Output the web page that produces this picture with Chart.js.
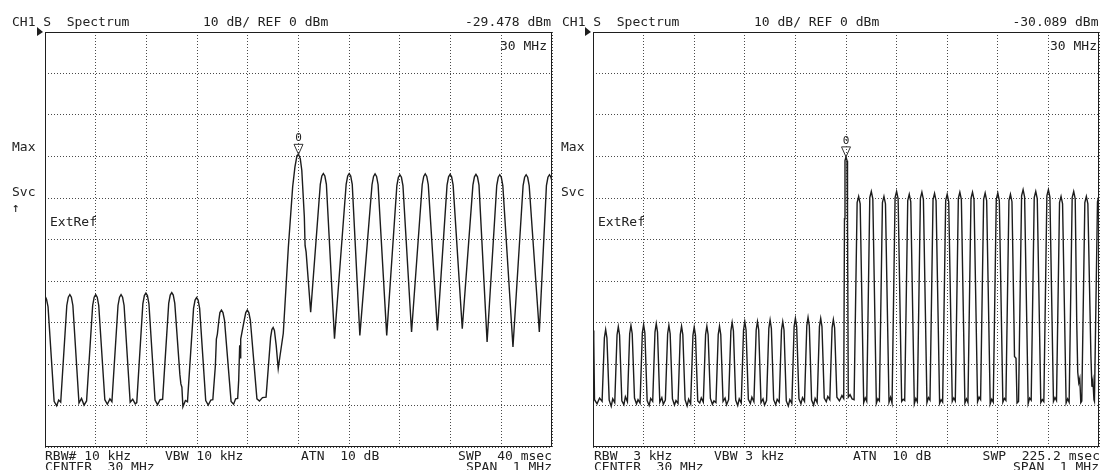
<!DOCTYPE html>
<html>
<head>
<meta charset="utf-8">
<script src="https://cdn.jsdelivr.net/npm/chart.js@4.4.0/dist/chart.umd.min.js"></script>
<style>
  body { margin: 0; background: #fff; }
  #wrap { position: relative; width: 1100px; height: 470px; overflow: hidden; background: #fff; }
  canvas { position: absolute; top: 0; }
</style>
</head>
<body>
<div id="wrap">
  <canvas id="leftScreen" width="560" height="470" style="left:0"></canvas>
  <canvas id="rightScreen" width="541" height="470" style="left:559px"></canvas>
</div>
<script>
"use strict";

// graticule: 10 divisions each way, 100 kHz/div and 10 dB/div
let gridFreq = [-500, -400, -300, -200, -100, 0, 100, 200, 300, 400, 500];
let gridLevel = [-100, -90, -80, -70, -60, -50, -40, -30, -20, -10, 0];

// marker 0 on each screen (offset from 30 MHz in kHz, level in dBm)
let markerFreq = [0, 0];
let markerLevel = [-29.478, -30.089];
let markerLabel = ['0', '0'];

// left screen trace: RBW 10 kHz, offset from 30 MHz in kHz
let leftFreq = [
  -500, -497, -494, -482, -477, -473,
  -469, -457, -454, -451, -448, -445, -433, -428, -423,
  -418, -406, -403, -400, -397, -394, -382, -377, -372,
  -368, -356, -353, -350, -347, -344, -332, -327, -322,
  -319, -307, -304, -301, -298, -295, -283, -278, -273,
  -268, -256, -253, -250, -247, -244, -234, -232, -230, -228, -223,
  -219, -207, -204, -201, -198, -195, -183, -178, -173,
  -169, -164, -162, -160, -157, -155, -152, -149, -146, -133, -128, -124,
  -120, -118, -116, -115, -114, -107, -104, -101, -98, -95, -82, -77, -71,
  -64, -55, -52.5, -50, -47.5, -44, -40, -37, -30, -20, -11.5, -7, -3, 0, 3.5, 6.5, 11.5, 13, 15, 24,
  43, 46, 49, 52, 55, 71,
  94, 97, 100, 103, 106, 121,
  145, 148, 151, 154, 157, 174,
  194, 197, 200, 203, 206, 223,
  244, 247, 250, 253, 256, 274,
  293, 296, 299, 302, 305, 323,
  344, 347, 350, 353, 356, 372,
  391, 394, 397, 400, 403, 423,
  443, 446, 449, 452, 455, 475,
  489, 492, 495, 498, 500
];
let leftLevel = [
  -63.6, -64.4, -66.2, -89.0, -90.1, -88.7,
  -89.2, -65.9, -63.9, -63.3, -63.9, -65.9, -89.4, -88.3, -89.9,
  -88.9, -65.9, -63.9, -63.3, -63.9, -65.9, -88.6, -89.7, -88.4,
  -89.1, -65.9, -63.9, -63.3, -63.9, -65.9, -89.2, -88.5, -89.6,
  -89.3, -65.5, -63.5, -62.9, -63.5, -65.5, -88.7, -89.8, -88.6,
  -88.5, -65.4, -63.4, -62.8, -63.4, -65.4, -82.5, -84.8, -85.6, -90.3, -88.8,
  -89.1, -66.6, -64.6, -64.0, -64.6, -66.6, -88.8, -89.9, -88.7,
  -88.6, -80.5, -74.0, -72.8, -69.4, -67.6, -67.0, -67.6, -69.4, -89.0, -89.7, -88.4,
  -88.3, -84.0, -75.5, -78.5, -74.0, -69.4, -67.6, -67.0, -67.6, -69.4, -88.4, -88.9, -88.1,
  -88.0, -73.6, -71.7, -71.2, -71.9, -75.5, -81.1, -78.5, -72.6, -51.8, -37.3, -32.5, -29.8, -29.478, -30.5, -33.3, -44.5, -51.5, -53.0, -67.5,
  -36.7, -34.7, -34.1, -34.7, -36.7, -73.9,
  -36.7, -34.7, -34.1, -34.7, -36.7, -73.1,
  -36.8, -34.8, -34.2, -34.8, -36.8, -73.1,
  -37.0, -35.0, -34.4, -35.0, -37.0, -72.3,
  -36.8, -34.8, -34.2, -34.8, -36.8, -71.9,
  -36.9, -34.9, -34.3, -34.9, -36.9, -71.5,
  -36.9, -34.9, -34.3, -34.9, -36.9, -74.7,
  -37.0, -35.0, -34.4, -35.0, -37.0, -75.9,
  -37.0, -35.0, -34.4, -35.0, -37.0, -72.3,
  -37.0, -35.0, -34.4, -35.0, -36.0
];

// right screen trace: RBW 3 kHz
let rightFreq = [
  -500, -498.5, -497, -492, -487,
  -482, -477.5, -475, -472.5, -468, -464, -461,
  -457, -452.5, -450, -447.5, -443, -439, -436,
  -432, -427.5, -425, -422.5, -418, -414, -411,
  -407, -402.5, -400, -397.5, -393, -389, -386,
  -382, -377.5, -375, -372.5, -368, -364, -361,
  -357, -352.5, -350, -347.5, -343, -339, -336,
  -332, -327.5, -325, -322.5, -318, -314, -311,
  -307, -302.5, -300, -297.5, -293, -289, -286,
  -282, -277.5, -275, -272.5, -268, -264, -261,
  -257, -252.5, -250, -247.5, -243, -239, -236,
  -232, -227.5, -225, -222.5, -218, -214, -211,
  -207, -202.5, -200, -197.5, -193, -189, -186,
  -182, -177.5, -175, -172.5, -168, -164, -161,
  -157, -152.5, -150, -147.5, -143, -139, -136,
  -132, -127.5, -125, -122.5, -118, -114, -111,
  -107, -102.5, -100, -97.5, -93, -89, -86,
  -82, -77.5, -75, -72.5, -68, -64, -61,
  -57, -52.5, -50, -47.5, -43, -39, -36,
  -32, -27.5, -25, -22.5, -18, -13, -8,
  -4.5, -3, -2, 0, 2, 3, 4.5, 8, 12,
  16, 22, 25, 28, 35, 38,
  41, 47, 50, 53, 60, 63,
  66, 72, 75, 78, 85, 88,
  91, 97, 100, 103, 110, 113,
  116, 122, 125, 128, 135, 138,
  141, 147, 150, 153, 160, 163,
  166, 172, 175, 178, 185, 188,
  191, 197, 200, 203, 210, 213,
  216, 222, 225, 228, 235, 238,
  241, 247, 250, 253, 260, 263,
  266, 272, 275, 278, 285, 288,
  291, 297, 300, 303, 310, 313,
  316, 322, 325, 328, 332, 333, 336, 338,
  341, 347, 350, 353, 360, 363,
  366, 372, 375, 378, 385, 388,
  391, 397, 400, 403, 410, 413,
  416, 422, 425, 428, 435, 438,
  441, 447, 450, 453, 456, 458, 460, 462, 464,
  466, 472, 475, 478, 484, 486, 488, 490,
  491, 497, 500
];
let rightLevel = [
  -71.9, -74.0, -88.6, -89.6, -88.2,
  -89.0, -73.7, -71.7, -73.7, -88.7, -90.2, -88.4,
  -89.3, -73.0, -71.0, -73.0, -88.9, -89.8, -87.9,
  -89.1, -72.7, -70.7, -72.7, -88.2, -89.6, -88.6,
  -89.4, -72.5, -70.5, -72.5, -88.8, -90.0, -88.3,
  -89.0, -72.3, -70.3, -72.3, -89.2, -88.1, -89.7,
  -88.7, -72.7, -70.7, -72.7, -88.4, -89.9, -88.8,
  -89.5, -72.9, -70.9, -72.9, -88.6, -90.1, -88.5,
  -89.6, -73.1, -71.1, -73.1, -88.9, -89.4, -88.2,
  -89.2, -72.9, -70.9, -72.9, -88.3, -89.7, -88.9,
  -89.3, -72.9, -70.9, -72.9, -89.0, -88.2, -89.8,
  -88.6, -72.0, -70.0, -72.0, -88.7, -90.0, -88.4,
  -89.4, -71.8, -69.8, -71.8, -88.5, -89.5, -88.0,
  -89.1, -71.8, -69.8, -71.8, -89.3, -88.4, -89.9,
  -88.8, -71.4, -69.4, -71.4, -88.6, -89.8, -88.5,
  -89.2, -71.8, -69.8, -71.8, -88.9, -90.1, -88.6,
  -89.5, -71.0, -69.0, -71.0, -88.4, -89.6, -88.1,
  -89.0, -70.8, -68.8, -70.8, -88.7, -89.9, -88.3,
  -89.3, -71.0, -69.0, -71.0, -88.2, -89.1, -87.8,
  -88.6, -71.3, -69.3, -71.3, -88.0, -88.9, -87.6,
  -88.3, -45.0, -31.0, -30.089, -31.0, -45.0, -88.0, -87.4, -88.4,
  -88.6, -41.1, -39.6, -41.4, -89.3, -88.2,
  -89.0, -39.9, -38.4, -40.2, -89.5, -88.4,
  -88.9, -41.1, -39.6, -41.4, -89.2, -88.0,
  -89.4, -39.9, -38.4, -40.2, -89.0, -88.5,
  -88.8, -40.6, -39.1, -40.9, -89.6, -88.3,
  -89.1, -40.1, -38.6, -40.4, -89.3, -88.1,
  -88.7, -40.4, -38.9, -40.7, -89.5, -88.6,
  -89.2, -40.6, -39.1, -40.9, -89.0, -88.2,
  -88.9, -40.1, -38.6, -40.4, -89.4, -88.4,
  -89.3, -40.1, -38.6, -40.4, -89.1, -88.0,
  -88.6, -40.3, -38.8, -40.6, -89.6, -88.5,
  -89.2, -40.3, -38.8, -40.6, -89.2, -88.3,
  -88.8, -40.6, -39.1, -40.9, -70.0, -78.2, -78.6, -89.4,
  -89.0, -39.5, -38.0, -39.8, -89.5, -88.2,
  -88.7, -39.9, -38.4, -40.2, -89.3, -88.6,
  -89.1, -39.5, -38.0, -39.8, -89.0, -88.1,
  -88.8, -41.1, -39.6, -41.4, -89.4, -88.4,
  -89.2, -39.9, -38.4, -40.2, -70.0, -82.0, -84.5, -83.5, -89.3,
  -88.9, -41.1, -39.6, -41.4, -78.0, -85.5, -84.0, -88.6,
  -89.0, -40.9, -39.4
];

let screenFont = '13px "DejaVu Sans Mono", monospace';

let leftTexts = [
  { text: 'CH1 S  Spectrum', x: 12, y: 26 },
  { text: '10 dB/ REF 0 dBm', x: 203, y: 26 },
  { text: '-29.478 dBm', x: 551, y: 26, align: 'right' },
  { text: '30 MHz', x: 500, y: 49.5 },
  { text: 'Max', x: 12, y: 151 },
  { text: 'Svc', x: 12, y: 196 },
  { text: '\u2191', x: 12, y: 212 },
  { text: 'ExtRef', x: 50, y: 226 },
  { text: 'RBW# 10 kHz', x: 45, y: 460 },
  { text: 'VBW 10 kHz', x: 165, y: 460 },
  { text: 'ATN  10 dB', x: 301, y: 460 },
  { text: 'SWP  40 msec', x: 552, y: 460, align: 'right' },
  { text: 'CENTER  30 MHz', x: 45, y: 471 },
  { text: 'SPAN  1 MHz', x: 552, y: 471, align: 'right' }
];

let rightTexts = [
  { text: 'CH1 S  Spectrum', x: 3, y: 26 },
  { text: '10 dB/ REF 0 dBm', x: 195, y: 26 },
  { text: '-30.089 dBm', x: 539.5, y: 26, align: 'right' },
  { text: '30 MHz', x: 491, y: 49.5 },
  { text: 'Max', x: 2, y: 151 },
  { text: 'Svc', x: 2, y: 196 },
  { text: 'ExtRef', x: 39, y: 226 },
  { text: 'RBW  3 kHz', x: 35, y: 460 },
  { text: 'VBW 3 kHz', x: 155, y: 460 },
  { text: 'ATN  10 dB', x: 294, y: 460 },
  { text: 'SWP  225.2 msec', x: 541, y: 460, align: 'right' },
  { text: 'CENTER  30 MHz', x: 35, y: 471 },
  { text: 'SPAN  1 MHz', x: 540, y: 471, align: 'right' }
];

// frame, annotation text and the marker symbol
let screenText = {
  id: 'screenText',
  afterDraw(chart, args, opts) {
    let ctx = chart.ctx;
    let area = chart.chartArea;
    ctx.save();
    ctx.strokeStyle = '#1e1e1e';
    ctx.lineWidth = 1;
    ctx.strokeRect(area.left + 0.5, area.top + 0.5, area.right - area.left - 1, area.bottom - area.top - 1);

    ctx.fillStyle = '#1e1e1e';
    ctx.beginPath();
    ctx.moveTo(area.left - 8, area.top - 5);
    ctx.lineTo(area.left - 2, area.top);
    ctx.lineTo(area.left - 8, area.top + 4);
    ctx.closePath();
    ctx.fill();

    ctx.font = screenFont;
    ctx.fillStyle = '#222';
    for (let t of opts.texts) {
      ctx.textAlign = t.align || 'left';
      ctx.fillText(t.text, t.x, t.y);
    }

    let mx = chart.scales.x.getPixelForValue(markerFreq[opts.marker]);
    let my = chart.scales.y.getPixelForValue(markerLevel[opts.marker]);
    ctx.strokeStyle = '#333';
    ctx.beginPath();
    ctx.moveTo(mx - 4.5, my - 10);
    ctx.lineTo(mx + 4.5, my - 10);
    ctx.lineTo(mx, my);
    ctx.closePath();
    ctx.stroke();
    ctx.font = '11px "DejaVu Sans Mono", monospace';
    ctx.textAlign = 'center';
    ctx.fillText(markerLabel[opts.marker], mx, my - 13);
    ctx.restore();
  }
};

function makeScreen(canvasId, freq, level, padLeft, padRight, texts, marker) {
  let points = freq.map((f, i) => ({ x: f, y: level[i] }));
  let gridStyle = { color: '#4a4a4a', lineWidth: 1, drawTicks: false };
  let ctx = document.getElementById(canvasId).getContext('2d');
  return new Chart(ctx, {
    type: 'line',
    data: {
      datasets: [{
        data: points,
        borderColor: '#1c1c1c',
        borderWidth: 1.4,
        pointRadius: 0,
        tension: 0,
        fill: false
      }]
    },
    options: {
      responsive: false,
      animation: false,
      layout: { padding: { left: padLeft, right: padRight, top: 32, bottom: 23 } },
      plugins: {
        legend: { display: false },
        tooltip: { enabled: false },
        screenText: { texts: texts, marker: marker }
      },
      scales: {
        x: {
          type: 'linear',
          min: -500,
          max: 500,
          afterBuildTicks: (s) => { s.ticks = gridFreq.map(v => ({ value: v })); },
          afterFit: (s) => { s.height = 0; },
          ticks: { display: false },
          grid: gridStyle,
          border: { display: false, dash: [1, 2] }
        },
        y: {
          min: -100,
          max: 0,
          afterBuildTicks: (s) => { s.ticks = gridLevel.map(v => ({ value: v })); },
          afterFit: (s) => { s.width = 0; },
          ticks: { display: false },
          grid: gridStyle,
          border: { display: false, dash: [1, 2] }
        }
      }
    },
    plugins: [screenText]
  });
}

makeScreen('leftScreen', leftFreq, leftLevel, 45, 8, leftTexts, 0);
makeScreen('rightScreen', rightFreq, rightLevel, 34, 1, rightTexts, 1);
</script>
</body>
</html>
